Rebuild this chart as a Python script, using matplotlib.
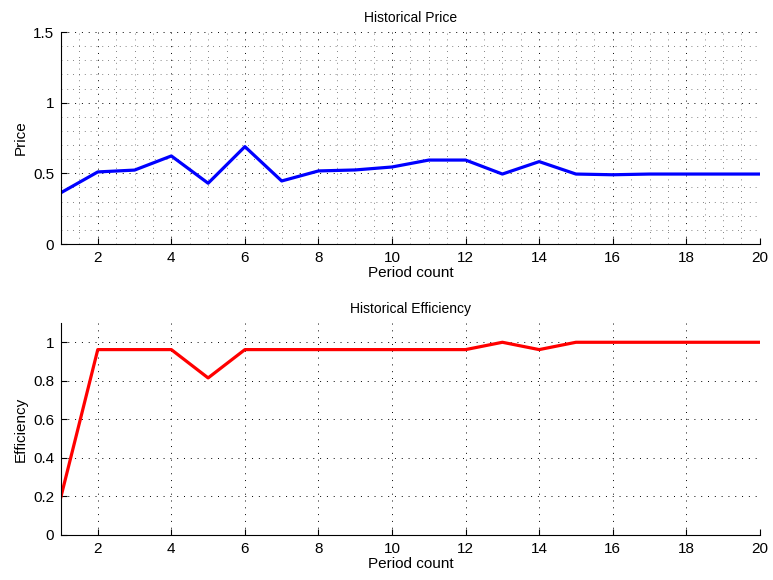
import matplotlib
matplotlib.use("Agg")
import matplotlib.pyplot as plt
from matplotlib.ticker import MultipleLocator

plt.rcParams['font.family'] = ['Liberation Sans', 'DejaVu Sans']

periods = list(range(1, 21))
price = [0.363, 0.51, 0.523, 0.623, 0.43, 0.689, 0.446, 0.517, 0.524, 0.545,
         0.594, 0.594, 0.495, 0.583, 0.495, 0.49, 0.495, 0.495, 0.495, 0.495]
efficiency = [0.199, 0.962, 0.962, 0.962, 0.815, 0.962, 0.962, 0.962, 0.962, 0.962,
              0.962, 0.962, 1.0, 0.962, 1.0, 1.0, 1.0, 1.0, 1.0, 1.0]

fig = plt.figure(figsize=(7.73, 5.8), dpi=100)
ax1 = fig.add_axes([0.0789, 0.5793, 0.9041, 0.3655])
ax2 = fig.add_axes([0.0789, 0.0776, 0.9041, 0.3655])

fs = 11
dots = (0, (1, 6))


def style(ax):
    for s in ['top', 'right']:
        ax.spines[s].set_visible(False)
    ax.tick_params(direction='in', labelsize=fs, length=4, width=0.8, pad=5)
    ax.tick_params(which='minor', length=0)
    ax.set_xlim(1, 20)
    ax.xaxis.set_major_locator(MultipleLocator(2))
    ax.set_xlabel('Period count', fontsize=fs, labelpad=1)


ax1.plot(periods, price, color='#0000ff', linewidth=2.3)
style(ax1)
ax1.set_ylim(0, 1.5)
ax1.set_yticks([0, 0.5, 1, 1.5])
ax1.set_yticklabels(['0', '0.5', '1', '1.5'])
ax1.xaxis.set_minor_locator(MultipleLocator(0.5))
ax1.yaxis.set_minor_locator(MultipleLocator(0.1))
ax1.grid(which='major', linestyle=dots, color='k', linewidth=0.7)
ax1.grid(which='minor', linestyle=dots, color='0.35', linewidth=0.6)
ax1.set_ylabel('Price', fontsize=fs)
ax1.set_title('Historical Price', fontsize=10, pad=7)

ax2.plot(periods, efficiency, color='#ff0000', linewidth=2.3)
style(ax2)
ax2.set_ylim(0, 1.1)
ax2.set_yticks([0, 0.2, 0.4, 0.6, 0.8, 1])
ax2.set_yticklabels(['0', '0.2', '0.4', '0.6', '0.8', '1'])
ax2.grid(which='major', linestyle=dots, color='k', linewidth=0.7)
ax2.set_ylabel('Efficiency', fontsize=fs)
ax2.set_title('Historical Efficiency', fontsize=10, pad=7)

fig.savefig('out.png', dpi=100)
